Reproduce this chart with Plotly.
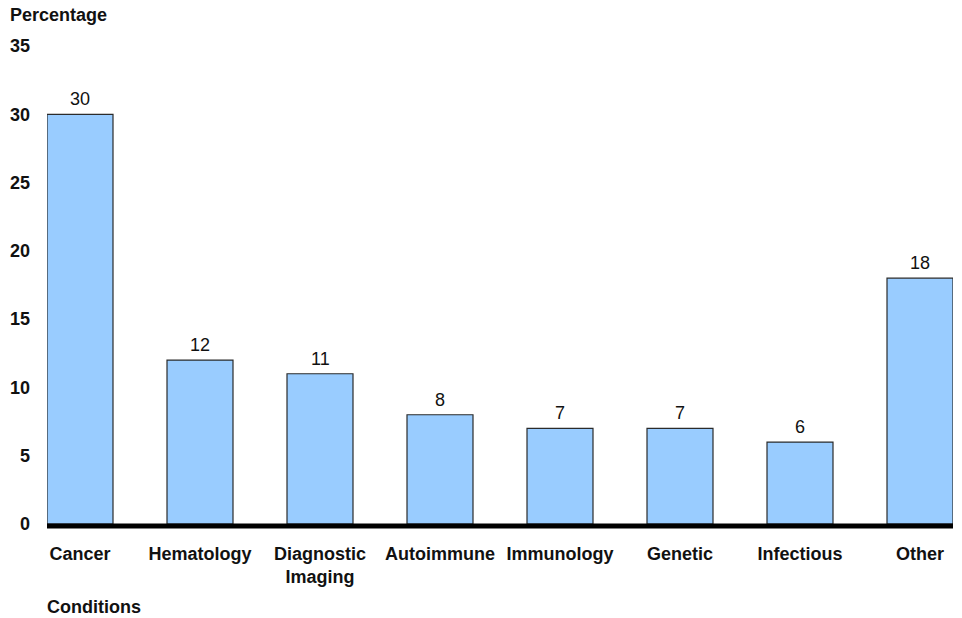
import plotly.graph_objects as go

categories = ["Cancer", "Hematology", "Diagnostic<br>Imaging", "Autoimmune",
              "Immunology", "Genetic", "Infectious", "Other"]
values = [30, 12, 11, 8, 7, 7, 6, 18]
y_ticks = [0, 5, 10, 15, 20, 25, 30, 35]

FONT = "Liberation Sans, Arial, sans-serif"
INK = "#111"
x_pos = list(range(len(categories)))

fig = go.Figure(
    go.Bar(
        x=x_pos,
        y=values,
        width=0.55,
        marker=dict(color="#99CCFF", line=dict(color="#2b2b2b", width=1.2)),
        cliponaxis=False,
    )
)

# value labels above each bar
value_labels = [
    dict(x=x, y=v, text=str(v), showarrow=False, yanchor="bottom",
         yshift=3, font=dict(family=FONT, size=18, color=INK))
    for x, v in zip(x_pos, values)
]

fig.update_layout(
    width=962, height=618,
    margin=dict(l=47, r=9, t=46, b=94),
    paper_bgcolor="white", plot_bgcolor="white",
    showlegend=False,
    font=dict(family=FONT, size=18, color=INK),
    xaxis=dict(
        tickmode="array",
        tickvals=x_pos,
        ticktext=[f"<b>{c}</b>" for c in categories],
        range=[-0.275, len(categories) - 1 + 0.275],
        showgrid=False, zeroline=False, showline=False,
        ticks="", ticklabelstandoff=17,
        tickfont=dict(family=FONT, size=18, color=INK),
    ),
    yaxis=dict(
        range=[0, 35],
        tickmode="array",
        tickvals=y_ticks,
        ticktext=[f"<b>{t}</b>" for t in y_ticks],
        showgrid=False, zeroline=False, showline=False,
        ticks="", ticklabelstandoff=16,
        tickfont=dict(family=FONT, size=18, color=INK),
    ),
    shapes=[
        dict(type="line", xref="paper", yref="paper", x0=0, x1=1,
             y0=-2 / 478, y1=-2 / 478,
             line=dict(color="black", width=5), layer="above"),
    ],
    annotations=value_labels + [
        dict(text="<b>Percentage</b>", xref="paper", yref="paper",
             x=-39 / 906, y=1 + 31 / 478, xanchor="left", yanchor="middle",
             showarrow=False, font=dict(family=FONT, size=18, color=INK)),
        dict(text="<b>Conditions</b>", xref="paper", yref="paper",
             x=-2 / 906, y=-83 / 478, xanchor="left", yanchor="middle",
             showarrow=False, font=dict(family=FONT, size=18, color=INK)),
    ],
)

fig.write_html("out.html")
